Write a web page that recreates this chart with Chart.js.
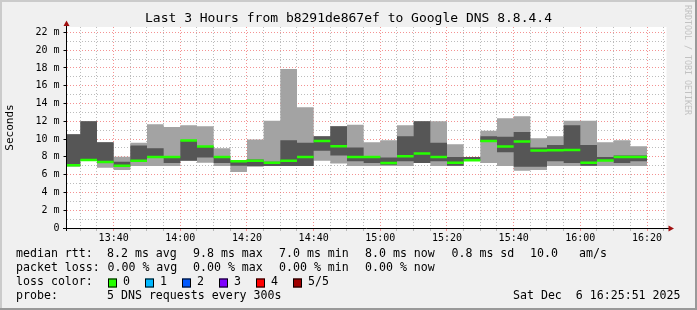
<!DOCTYPE html>
<html>
<head>
<meta charset="utf-8">
<script src="https://cdn.jsdelivr.net/npm/chart.js@4/dist/chart.umd.min.js"></script>
<style>
  html, body { margin: 0; padding: 0; background: #f0f0f0; }
  canvas { display: block; }
</style>
</head>
<body>
<canvas id="smokeChart" width="697" height="310"></canvas>
<script>
// time window of the graph
const startTime = '13:25:51';
const endTime = '16:25:51';

// 5 minute bins (edges), the first one is cut by the window start
const binEdges = ['13:25:51', '13:30', '13:35', '13:40', '13:45', '13:50', '13:55',
  '14:00', '14:05', '14:10', '14:15', '14:20', '14:25', '14:30', '14:35', '14:40', '14:45', '14:50', '14:55',
  '15:00', '15:05', '15:10', '15:15', '15:20', '15:25', '15:30', '15:35', '15:40', '15:45', '15:50', '15:55',
  '16:00', '16:05', '16:10', '16:15', '16:20'];

// rtt per bin in ms: sorted pings 1..5 (median = ping 3)
const minRtt = [6.95, 7.6, 6.77, 6.51, 6.96, 6.96, 6.96, 7.56, 7.33, 6.96,
  6.3, 6.9, 6.96, 6.96, 6.96, 7.56, 7.26, 6.96, 6.96, 6.96,
  6.96, 7.3, 6.96, 6.96, 7.55, 7.3, 6.96, 6.44, 6.51, 6.96,
  6.96, 6.96, 6.96, 6.96, 6.96];
const lowRtt = [6.95, 7.6, 7.35, 6.9, 7.5, 7.9, 7.3, 7.56, 7.93, 7.3,
  7.0, 6.96, 6.96, 6.96, 6.96, 8.68, 8.16, 7.5, 7.3, 7.1,
  7.5, 7.3, 7.5, 7.0, 7.55, 9.7, 8.53, 6.9, 6.9, 7.5,
  7.3, 7.0, 7.55, 7.3, 7.5];
const medianRtt = [7.05, 7.65, 7.41, 7.0, 7.56, 7.97, 7.99, 9.84, 9.17, 7.99,
  7.5, 7.55, 7.35, 7.56, 7.97, 9.77, 9.2, 7.97, 7.99, 7.3,
  8.08, 8.38, 7.99, 7.33, 7.63, 9.77, 9.17, 9.73, 8.72, 8.75,
  8.77, 7.33, 7.6, 7.99, 7.99];
const highRtt = [10.55, 12.0, 9.65, 7.45, 9.28, 8.98, 8.05, 9.84, 9.2, 8.05,
  7.6, 7.7, 7.45, 9.88, 9.58, 10.33, 11.45, 9.05, 8.05, 7.93,
  10.33, 12.01, 9.58, 7.97, 7.97, 10.33, 10.25, 10.78, 9.05, 9.32,
  11.56, 9.32, 7.97, 8.16, 8.16];
const maxRtt = [10.55, 12.0, 9.65, 8.0, 9.58, 11.67, 11.37, 11.56, 11.45, 8.98,
  7.6, 9.95, 12.05, 17.88, 13.58, 10.33, 11.45, 11.6, 9.65, 9.88,
  11.56, 12.01, 12.01, 9.43, 7.97, 10.93, 12.35, 12.57, 10.1, 10.33,
  12.05, 12.05, 9.65, 9.88, 9.2];

// axis labels
const xTickLabels = ['13:40', '14:00', '14:20', '14:40', '15:00', '15:20', '15:40', '16:00', '16:20'];
const yTickLabels = ['0', '2 m', '4 m', '6 m', '8 m', '10 m', '12 m', '14 m', '16 m', '18 m', '20 m', '22 m'];

const lossLabels = ['0', '1', '2', '3', '4', '5/5'];
const lossColors = ['#26ff00', '#00b8ff', '#0059ff', '#7e00ff', '#ff0000', '#a00000'];

const mono = 'DejaVu Sans Mono';
const majorGrid = 'rgba(240, 110, 110, 0.75)';
const minorGrid = 'rgba(160, 160, 160, 0.7)';

const toMin = t => {
  const [h, m, s = 0] = t.split(':').map(Number);
  return h * 60 + m + s / 60;
};
const fmtTime = v => Math.floor(v / 60) + ':' + String(Math.round(v % 60)).padStart(2, '0');

const stepPoints = vals => binEdges.map((t, i) => ({ x: toMin(t), y: vals[Math.min(i, vals.length - 1)] }));
const medianPoints = medianRtt.flatMap((v, i) => [
  { x: toMin(binEdges[i]), y: v },
  { x: toMin(binEdges[i + 1]), y: v },
  { x: toMin(binEdges[i + 1]), y: null },
]);

// minor grid every 5 min / 1 ms
const xGrid = [];
for (let v = toMin('13:30'); v < toMin(endTime); v += 5) xGrid.push(v);
const yGrid = [];
for (let v = 0; v <= 22; v++) yGrid.push(v);

const hidden = { borderColor: 'rgba(0,0,0,0)', borderWidth: 0, pointRadius: 0, stepped: true };

const rrdLook = {
  id: 'rrdLook',
  beforeDraw(chart) {
    const { ctx, chartArea: a } = chart;
    ctx.save();
    ctx.fillStyle = '#f0f0f0';
    ctx.fillRect(0, 0, 697, 310);
    ctx.fillStyle = '#cbcbcb';
    ctx.fillRect(0, 0, 697, 2);
    ctx.fillRect(0, 0, 2, 310);
    ctx.fillStyle = '#999999';
    ctx.fillRect(0, 308, 697, 2);
    ctx.fillRect(695, 0, 2, 310);
    ctx.fillStyle = '#ffffff';
    ctx.fillRect(a.left, a.top, a.right - a.left, a.bottom - a.top);
    ctx.restore();
  },
  afterDraw(chart) {
    const { ctx, chartArea: a } = chart;
    ctx.save();
    // axes with arrows
    ctx.strokeStyle = '#000';
    ctx.lineWidth = 1;
    ctx.beginPath();
    ctx.moveTo(63, 228.5); ctx.lineTo(670, 228.5);
    ctx.moveTo(66.5, 231); ctx.lineTo(66.5, 25);
    ctx.stroke();
    ctx.fillStyle = '#a01010';
    ctx.beginPath();
    ctx.moveTo(66.5, 20.5); ctx.lineTo(63.5, 26); ctx.lineTo(69.5, 26); ctx.closePath();
    ctx.fill();
    ctx.beginPath();
    ctx.moveTo(674, 228.5); ctx.lineTo(668.5, 225.5); ctx.lineTo(668.5, 231.5); ctx.closePath();
    ctx.fill();

    // title
    ctx.fillStyle = '#000';
    ctx.font = '13px "' + mono + '"';
    ctx.textAlign = 'center';
    ctx.textBaseline = 'middle';
    ctx.fillText('Last 3 Hours from b8291de867ef to Google DNS 8.8.4.4', 348.5, 18.5);

    // watermark
    ctx.save();
    ctx.translate(687, 5);
    ctx.rotate(Math.PI / 2);
    ctx.font = '8.3px "' + mono + '"';
    ctx.textAlign = 'left';
    ctx.fillStyle = '#c2c2c2';
    ctx.fillText('RRDTOOL / TOBI OETIKER', 0, 0);
    ctx.restore();

    // legend rows
    ctx.font = '11.6px "' + mono + '"';
    ctx.textAlign = 'left';
    ctx.fillStyle = '#000';
    const rows = [
      [254, [[16, 'median rtt:'], [107, '8.2 ms avg'], [193, '9.8 ms max'], [279, '7.0 ms min'],
        [365, '8.0 ms now'], [451.5, '0.8 ms sd'], [530, '10.0'], [579, 'am/s']]],
      [268, [[16, 'packet loss:'], [107.5, '0.00 % avg'], [193, '0.00 % max'], [279, '0.00 % min'], [365, '0.00 % now']]],
      [282, [[16, 'loss color:']]],
      [296, [[16, 'probe:'], [107, '5 DNS requests every 300s']]],
    ];
    rows.forEach(([y, items]) => items.forEach(([x, s]) => ctx.fillText(s, x, y)));
    ctx.textAlign = 'right';
    ctx.fillText('Sat Dec  6 16:25:51 2025', 680.5, 296);
    ctx.textAlign = 'left';
    lossLabels.forEach((lbl, i) => {
      const x = 108 + i * 37;
      ctx.fillStyle = lossColors[i];
      ctx.fillRect(x, 278.5, 9, 9);
      ctx.strokeStyle = '#000';
      ctx.strokeRect(x + 0.5, 279, 8, 8);
      ctx.fillStyle = '#000';
      ctx.fillText(lbl, x + 15, 282);
    });
    ctx.restore();
  },
};

new Chart(document.getElementById('smokeChart'), {
  type: 'line',
  data: {
    datasets: [
      { label: 'median', data: medianPoints, borderColor: lossColors[0], borderWidth: 2.5, pointRadius: 0, fill: false, spanGaps: false },
      { label: 'ping 4', data: stepPoints(highRtt), ...hidden, fill: 2, backgroundColor: '#565656' },
      { label: 'ping 2', data: stepPoints(lowRtt), ...hidden, fill: false },
      { label: 'ping 5', data: stepPoints(maxRtt), ...hidden, fill: 4, backgroundColor: '#a3a3a3' },
      { label: 'ping 1', data: stepPoints(minRtt), ...hidden, fill: false },
    ],
  },
  options: {
    responsive: false,
    devicePixelRatio: 1,
    animation: false,
    events: [],
    layout: { padding: { left: 0, right: 30.5, top: 27, bottom: 0 } },
    plugins: { legend: { display: false }, title: { display: false }, tooltip: { enabled: false } },
    scales: {
      x: {
        type: 'linear',
        min: toMin(startTime),
        max: toMin(endTime),
        afterBuildTicks: s => { s.ticks = xGrid.map(v => ({ value: v })); },
        afterFit: s => { s.height = 82; },
        grid: { color: c => (c.tick.value % 20 === 0 ? majorGrid : minorGrid), tickLength: 3 },
        border: { display: false, dash: [1, 2] },
        ticks: {
          autoSkip: false, maxRotation: 0, padding: 1, color: '#000',
          font: { family: mono, size: 10 },
          callback: v => (xTickLabels.includes(fmtTime(v)) ? fmtTime(v) : ''),
        },
      },
      y: {
        min: 0,
        max: 22.6,
        afterBuildTicks: s => { s.ticks = yGrid.map(v => ({ value: v })); },
        afterFit: s => { s.width = 66.5; },
        grid: {
          color: c => (c.tick.value % 2 === 0 ? majorGrid : minorGrid),
          tickLength: 3,
          tickColor: c => (c.tick.value % 2 === 0 ? '#000' : 'rgba(0,0,0,0)'),
        },
        border: { display: false, dash: [1, 2] },
        ticks: {
          autoSkip: false, padding: 4, color: '#000',
          font: { family: mono, size: 10 },
          callback: v => (v % 2 === 0 ? yTickLabels[v / 2] : ''),
        },
        title: {
          display: true, text: 'Seconds', color: '#000',
          font: { family: mono, size: 11 }, padding: { top: 4, bottom: 0 },
        },
      },
    },
  },
  plugins: [rrdLook],
});
</script>
</body>
</html>
